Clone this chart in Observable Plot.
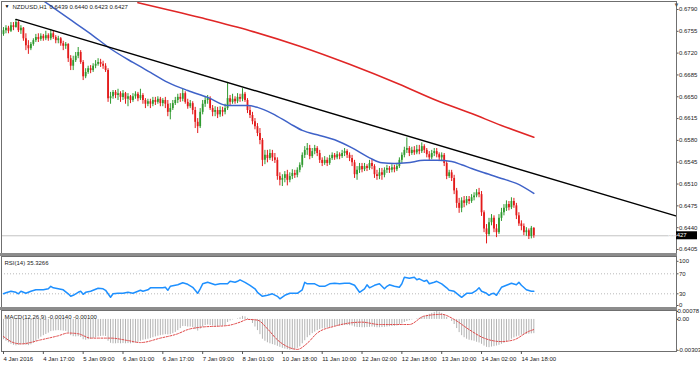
<!DOCTYPE html>
<html><head><meta charset="utf-8">
<script src="https://cdn.jsdelivr.net/npm/d3@7"></script>
<script src="https://cdn.jsdelivr.net/npm/@observablehq/plot@0.6"></script>
<style>
html,body{margin:0;padding:0;background:#fff;}
#chart{position:relative;width:700px;height:366px;overflow:hidden;background:#fff;}
#chart svg{position:absolute;left:0;}
.sep{position:absolute;left:0;width:677px;height:3px;background:#8c8c8c;}
</style></head><body><div id="chart"></div>
<script>
// ---- Data (prices in pips, i.e. units of 0.0001; one entry per H1 bar) ----
const symbolName = "NZDUSD,H1";
const openPips = [
6750,6756,6760,6755,6764,6761,6769,6756,6760,6743,
6732,6727,6734,6740,6745,6742,6747,6743,6748,6743,
6751,6745,6740,6743,6735,6731,6734,6711,6699,6708,
6715,6721,6705,6682,6689,6695,6692,6699,6702,6705,
6702,6699,6692,6647,6650,6657,6652,6655,6649,6655,
6646,6650,6644,6650,6654,6647,6652,6644,6638,6642,
6638,6644,6641,6646,6639,6644,6638,6625,6631,6639,
6644,6649,6646,6655,6641,6634,6639,6628,6609,6602,
6625,6638,6644,6647,6631,6625,6628,6621,6628,6625,
6631,6647,6641,6646,6642,6649,6646,6654,6644,6628,
6620,6610,6602,6591,6580,6548,6556,6551,6559,6552,
6548,6522,6516,6519,6525,6516,6522,6527,6524,6532,
6540,6556,6564,6567,6554,6562,6567,6559,6548,6543,
6548,6543,6551,6556,6552,6557,6554,6559,6562,6556,
6551,6544,6525,6532,6538,6533,6538,6535,6543,6538,
6525,6522,6528,6524,6532,6535,6532,6536,6533,6538,
6548,6556,6564,6567,6559,6564,6560,6565,6562,6570,
6564,6557,6552,6559,6562,6557,6552,6556,6543,6522,
6528,6519,6499,6479,6471,6483,6479,6485,6482,6488,
6491,6496,6493,6464,6438,6429,6448,6455,6438,6432,
6455,6464,6471,6477,6472,6482,6475,6459,6446,6442,
6432,6435,6426,6439];
const highPips = [
6761,6764,6763,6769,6769,6774,6771,6764,6761,6751,
6740,6737,6743,6750,6751,6751,6750,6755,6751,6758,
6755,6748,6747,6745,6739,6737,6735,6716,6715,6721,
6729,6724,6708,6695,6699,6700,6703,6708,6711,6710,
6707,6703,6695,6657,6660,6660,6662,6658,6660,6657,
6655,6652,6655,6658,6657,6662,6655,6647,6646,6646,
6649,6649,6650,6649,6647,6649,6644,6639,6644,6649,
6654,6655,6662,6658,6646,6644,6642,6633,6615,6631,
6644,6649,6652,6650,6636,6634,6633,6634,6633,6638,
6673,6652,6654,6650,6655,6654,6663,6657,6647,6634,
6625,6615,6607,6599,6583,6564,6564,6565,6564,6559,
6552,6528,6525,6530,6532,6528,6533,6532,6536,6544,
6560,6570,6575,6572,6567,6572,6570,6564,6552,6554,
6552,6556,6560,6559,6562,6560,6564,6567,6565,6560,
6556,6548,6538,6543,6543,6543,6541,6548,6549,6541,
6532,6535,6535,6536,6540,6538,6541,6540,6543,6552,
6560,6569,6584,6570,6569,6570,6572,6572,6576,6573,
6567,6562,6564,6567,6567,6560,6560,6559,6546,6532,
6532,6524,6503,6487,6488,6490,6490,6490,6493,6496,
6501,6503,6498,6467,6445,6455,6461,6459,6445,6461,
6471,6477,6483,6482,6488,6487,6479,6464,6451,6446,
6440,6438,6442,6440];
const lowPips = [
6747,6751,6751,6753,6756,6760,6753,6750,6739,6724,
6718,6724,6731,6737,6737,6739,6739,6740,6739,6740,
6742,6735,6735,6731,6724,6726,6705,6692,6692,6705,
6711,6702,6676,6679,6686,6687,6689,6695,6699,6697,
6694,6689,6641,6638,6646,6647,6644,6641,6644,6638,
6634,6639,6641,6646,6642,6644,6638,6631,6634,6631,
6634,6636,6638,6634,6634,6631,6618,6613,6628,6636,
6639,6641,6642,6638,6630,6631,6621,6599,6591,6599,
6621,6633,6638,6628,6618,6618,6615,6617,6618,6621,
6628,6636,6638,6638,6639,6641,6642,6641,6623,6615,
6605,6597,6586,6573,6538,6541,6544,6548,6546,6543,
6516,6507,6506,6512,6507,6512,6517,6519,6520,6528,
6536,6551,6556,6549,6551,6557,6554,6543,6538,6540,
6538,6540,6548,6548,6549,6549,6551,6554,6551,6546,
6538,6519,6516,6527,6528,6530,6530,6532,6533,6519,
6516,6517,6516,6520,6527,6527,6528,6528,6530,6535,
6543,6552,6559,6554,6556,6556,6557,6557,6559,6559,
6552,6548,6549,6554,6552,6548,6546,6538,6517,6519,
6514,6493,6471,6463,6464,6472,6475,6477,6479,6483,
6488,6488,6458,6432,6414,6426,6443,6432,6424,6429,
6450,6459,6466,6467,6469,6471,6453,6442,6435,6427,
6426,6421,6422,6423];
const closePips = [
6756,6760,6755,6764,6761,6769,6756,6760,6743,6732,
6727,6734,6740,6745,6742,6747,6743,6748,6743,6751,
6745,6740,6743,6735,6731,6734,6711,6699,6708,6715,
6721,6705,6682,6689,6695,6692,6699,6702,6705,6702,
6699,6692,6647,6650,6657,6652,6655,6649,6655,6646,
6650,6644,6650,6654,6647,6652,6644,6638,6642,6638,
6644,6641,6646,6639,6644,6638,6625,6631,6639,6644,
6649,6646,6655,6641,6634,6639,6628,6609,6602,6625,
6638,6644,6647,6631,6625,6628,6621,6628,6625,6631,
6647,6641,6646,6642,6649,6646,6654,6644,6628,6620,
6610,6602,6591,6580,6548,6556,6551,6559,6552,6548,
6522,6516,6519,6525,6516,6522,6527,6524,6532,6540,
6556,6564,6567,6554,6562,6567,6559,6548,6543,6548,
6543,6551,6556,6552,6557,6554,6559,6562,6556,6551,
6544,6525,6532,6538,6533,6538,6535,6543,6538,6525,
6522,6528,6524,6532,6535,6532,6536,6533,6538,6548,
6556,6564,6567,6559,6564,6560,6565,6562,6570,6564,
6557,6552,6559,6562,6557,6552,6556,6543,6522,6528,
6519,6499,6479,6471,6483,6479,6485,6482,6488,6491,
6496,6493,6464,6438,6429,6448,6455,6438,6432,6455,
6464,6471,6477,6472,6482,6475,6459,6446,6442,6432,
6435,6426,6439,6427];

// Moving averages (vertices: bar index, price in pips)
const blueMABar = [16,26,35,43,52,59,66,74,82,90,98,102,108,115,120,127,133,140,147,152,157,162,169,174,180,184,188,193,200,206,213];
const blueMAPips = [6804,6776,6751,6727,6705,6689,6673,6660,6649,6636,6636,6633,6623,6607,6596,6588,6581,6568,6552,6544,6543,6544,6548,6548,6546,6541,6535,6528,6519,6511,6495];
const redMABar = [54,79,99,119,139,159,174,188,200,213];
const redMAPips = [6801,6777,6756,6731,6702,6670,6644,6623,6604,6585];

// Trendline anchors (bar index, price)
const trendBar = [5, 270];
const trendPrice = [0.6774, 0.6459];

// RSI(14) vertices
const rsiBar = [0,1,3,5,6,7,9,11,13,16,18,19,20,22,24,26,27,28,30,31,32,33,35,38,40,41,42,43,44,46,48,50,52,54,55,56,58,59,62,64,65,66,67,70,72,74,76,77,78,79,80,82,85,87,90,91,93,94,95,97,99,101,102,104,106,108,110,111,113,115,118,120,121,122,125,127,129,131,133,135,137,139,141,143,145,146,147,149,151,153,154,155,157,159,160,161,163,165,166,167,169,170,171,173,174,176,178,179,181,183,184,186,188,190,191,192,194,195,196,197,198,200,202,204,206,207,208,210,212,213];
const rsiVal = [30,32,35,33,30,35,31,35,38,38,40,45,42,40,38,30,25,27,33,35,29,33,35,41,40,37,30,23,30,31,31,33,31,35,37,35,38,42,42,42,43,37,45,48,52,49,43,37,31,40,50,53,48,50,50,55,53,55,58,53,47,40,33,25,27,30,25,20,27,31,31,38,53,50,50,45,45,50,51,50,51,51,47,33,40,48,42,47,50,40,45,48,45,43,50,63,61,63,58,60,55,57,50,53,55,50,42,37,35,27,23,31,31,37,42,35,31,27,30,31,27,43,47,51,48,53,47,38,35,35.3266];
const rsiLevels = [70, 30];
const rsiEnds = [100, 0];

// MACD(12,26,9): main histogram per bar, in units of 0.00001
const macdMain = [
-200,-215,-230,-245,-255,-260,-255,-250,-250,-255,
-258,-250,-235,-215,-195,-175,-160,-148,-135,-120,
-115,-112,-110,-112,-115,-118,-135,-160,-170,-172,
-170,-178,-200,-205,-200,-195,-188,-180,-172,-168,
-165,-168,-215,-235,-240,-240,-238,-240,-238,-240,
-238,-240,-236,-232,-225,-215,-205,-200,-195,-188,
-180,-172,-165,-160,-155,-150,-152,-150,-140,-128,
-110,-90,-70,-70,-75,-75,-80,-100,-115,-95,
-75,-60,-55,-60,-65,-68,-70,-68,-65,-60,
-30,-15,-5,0,5,15,30,25,10,-10,
-40,-75,-110,-150,-195,-215,-230,-240,-248,-255,
-265,-275,-285,-292,-298,-303,-300,-295,-285,-270,
-240,-210,-180,-160,-140,-125,-110,-100,-92,-88,
-85,-80,-75,-72,-68,-65,-62,-60,-60,-62,
-65,-75,-80,-80,-82,-82,-80,-78,-75,-78,
-82,-82,-80,-78,-75,-72,-70,-68,-65,-55,
-45,-30,-20,-12,-5,0,5,12,22,30,
40,50,60,70,78,72,60,45,20,0,
-20,-50,-90,-130,-160,-180,-195,-205,-210,-215,
-225,-232,-245,-262,-275,-278,-272,-268,-262,-255,
-245,-235,-222,-210,-195,-182,-172,-165,-155,-150,
-148,-145,-142,-140];
// MACD signal line vertices (bar, units of 0.00001)
const signalBar = [0,3,7,15,22,26,30,35,43,50,55,63,70,74,79,90,95,98,102,106,110,114,118,122,126,133,144,151,163,169,176,181,187,193,200,205,211,213];
const signalVal = [-168,-218,-241,-201,-161,-134,-141,-184,-184,-208,-228,-184,-141,-100,-77,-60,-27,0,-7,-92,-201,-268,-295,-235,-134,-67,-27,-50,-50,33,50,0,-100,-184,-218,-201,-117,-100];

// Axis ticks and labels
const priceTicks = [0.6790,0.6755,0.6720,0.6685,0.6650,0.6615,0.6580,0.6545,0.6510,0.6475,0.6440,0.6405];
const macdTicks = [0.00078, 0, -0.00303];
const macdTickLabels = ["0.00078", "0.00", "-0.00303"];
const timeTickBars = [0,16,32,48,64,80,96,112,128,144,160,176,192,208];
const timeTickLabels = ["4 Jan 2016","4 Jan 17:00","5 Jan 09:00","6 Jan 01:00","6 Jan 17:00","7 Jan 09:00","8 Jan 01:00","10 Jan 18:00","11 Jan 10:00","12 Jan 02:00","12 Jan 18:00","13 Jan 10:00","14 Jan 02:00","14 Jan 18:00"];

// ---- Build tables ----
const P = 1e-4;
const bars = openPips.map((o, i) => ({i, open: o*P, high: highPips[i]*P, low: lowPips[i]*P, close: closePips[i]*P}));
const bull = bars.filter(d => d.close >= d.open);
const bear = bars.filter(d => d.close < d.open);
const last = bars[bars.length - 1];
const blueMA = blueMABar.map((b, k) => ({i: b, v: blueMAPips[k]*P}));
const redMA = redMABar.map((b, k) => ({i: b, v: redMAPips[k]*P}));
const trend = trendBar.map((b, k) => ({i: b, v: trendPrice[k]}));
const rsi = rsiBar.map((b, k) => ({i: b, v: rsiVal[k]}));
const macd = macdMain.map((v, i) => ({i, v: v*1e-5}));
const signal = signalBar.map((b, k) => ({i: b, v: signalVal[k]*1e-5}));

const FONT = "'Liberation Sans', Arial, sans-serif";
const baseStyle = {fontFamily: FONT, fontSize: "6px", color: "#1a1a1a", background: "transparent", overflow: "visible"};
const xScale = {type: "linear", domain: [-0.8, 270.3], range: [1, 676], label: null};
const frameColor = "#6f6f6f";
const bullColor = "#2f9a2f", bearColor = "#e31a1a";
const axisOpts = {anchor: "right", tickSize: 1.5, tickPadding: 1, fontSize: 6, stroke: "#555", fill: "#1a1a1a", label: null};

// ---- Main price panel ----
const mainPlot = Plot.plot({
  width: 700, height: 254, marginLeft: 1, marginRight: 24, marginTop: 1, marginBottom: 1,
  style: baseStyle,
  x: {...xScale, axis: null},
  y: {domain: [0.639697, 0.68028], range: [254, 1], label: null},
  marks: [
    Plot.ruleY([last.close], {stroke: "#c4c4c4", strokeWidth: 1}),
    Plot.ruleX(bull, {x: "i", y1: "low", y2: "high", stroke: bullColor, strokeWidth: 1}),
    Plot.ruleX(bear, {x: "i", y1: "low", y2: "high", stroke: bearColor, strokeWidth: 1}),
    Plot.ruleX(bull, {x: "i", y1: "open", y2: "close", stroke: bullColor, strokeWidth: 1.8}),
    Plot.ruleX(bear, {x: "i", y1: "open", y2: "close", stroke: bearColor, strokeWidth: 1.8}),
    Plot.line(redMA, {x: "i", y: "v", stroke: "#e02626", strokeWidth: 1.6, curve: "monotone-x", clip: true}),
    Plot.line(blueMA, {x: "i", y: "v", stroke: "#3f62c8", strokeWidth: 1.5, curve: "monotone-x", clip: true}),
    Plot.line(trend, {x: "i", y: "v", stroke: "#000", strokeWidth: 1.4, clip: true}),
    Plot.frame({stroke: frameColor}),
    Plot.axisY(priceTicks, {...axisOpts, tickFormat: d => d.toFixed(4)}),
    Plot.text(["\u25BC"], {frameAnchor: "top-left", dx: 3, dy: 3, fontSize: 5, fill: "#000", textAnchor: "start", lineAnchor: "top"}),
    Plot.text([symbolName], {frameAnchor: "top-left", dx: 11, dy: 3, fontSize: 6, fill: "#1a1a1a", textAnchor: "start", lineAnchor: "top"}),
    Plot.text([[last.open, last.high, last.low, last.close].map(v => v.toFixed(4)).join(" ")], {frameAnchor: "top-left", dx: 48, dy: 3, fontSize: 6, fill: "#1a1a1a", textAnchor: "start", lineAnchor: "top"}),
    Plot.text(["\u25BC"], {frameAnchor: "top-right", dx: 0, dy: 1, fontSize: 6, fill: "#555", textAnchor: "middle", lineAnchor: "top"})
  ]
});
mainPlot.style.top = "0px";

// Bid price label box, placed through the plot's own y scale
{
  const yy = mainPlot.scale("y").apply(last.close);
  const svg = d3.select(mainPlot);
  svg.append("rect").attr("x", 676).attr("y", yy - 4).attr("width", 21).attr("height", 8).attr("fill", "#000");
  svg.append("text").attr("x", 677.5).attr("y", yy).attr("dy", "0.34em").attr("fill", "#fff")
    .attr("font-family", FONT).attr("font-size", 6).text(last.close.toFixed(4));
}

// ---- RSI panel ----
const rsiPlot = Plot.plot({
  width: 700, height: 51, marginLeft: 1, marginRight: 24, marginTop: 0, marginBottom: 0,
  style: baseStyle,
  x: {...xScale, axis: null},
  y: {domain: [0, 100], range: [52.3, 2.3], label: null},
  marks: [
    Plot.ruleY(rsiLevels, {stroke: "#b9b9b9", strokeDasharray: "1,2", strokeWidth: 1}),
    Plot.line(rsi, {x: "i", y: "v", stroke: "#1e90ff", strokeWidth: 1.5}),
    Plot.frame({stroke: frameColor}),
    Plot.axisY([rsiEnds[0]], {...axisOpts, dy: 2.5}),
    Plot.axisY(rsiLevels, axisOpts),
    Plot.axisY([rsiEnds[1]], {...axisOpts, dy: -3.3}),
    Plot.text([`RSI(14) ${rsiVal[rsiVal.length - 1].toFixed(4)}`], {frameAnchor: "top-left", dx: 3, dy: 4, fontSize: 6, fill: "#1a1a1a", textAnchor: "start", lineAnchor: "top"})
  ]
});
rsiPlot.style.top = "256px";

// ---- MACD panel + time axis ----
const fmt5 = v => v.toFixed(5);
const macdPlot = Plot.plot({
  width: 700, height: 56, marginLeft: 1, marginRight: 24, marginTop: 0, marginBottom: 15,
  style: baseStyle,
  x: {...xScale},
  y: {domain: [-0.00303, 0.00078], range: [39.7, 1], label: null},
  marks: [
    Plot.ruleX(macd, {x: "i", y1: 0, y2: "v", stroke: "#b3b3b3", strokeWidth: 1}),
    Plot.line(signal, {x: "i", y: "v", stroke: "#e04848", strokeWidth: 1, strokeDasharray: "2,1.5", curve: "monotone-x"}),
    Plot.frame({stroke: frameColor}),
    Plot.axisY(macdTicks, {...axisOpts, tickSize: 1, tickPadding: 0, tickFormat: (d, k) => macdTickLabels[k]}),
    Plot.axisX(timeTickBars, {anchor: "bottom", tickSize: 3, tickPadding: 2, textAnchor: "start", dx: 0, tickFormat: (d, k) => timeTickLabels[k], fontSize: 6, stroke: "#555", fill: "#1a1a1a", label: null}),
    Plot.text([`MACD(12,26,9) ${fmt5(macdMain[macdMain.length - 1]*1e-5)} ${fmt5(signalVal[signalVal.length - 1]*1e-5)}`], {frameAnchor: "top-left", dx: 3, dy: 4, fontSize: 6, fill: "#1a1a1a", textAnchor: "start", lineAnchor: "top"})
  ]
});
macdPlot.style.top = "310px";

const root = document.getElementById("chart");
root.append(mainPlot, rsiPlot, macdPlot);
for (const t of [253, 307]) {
  const d = document.createElement("div");
  d.className = "sep"; d.style.top = t + "px";
  root.append(d);
}
</script></body></html>
